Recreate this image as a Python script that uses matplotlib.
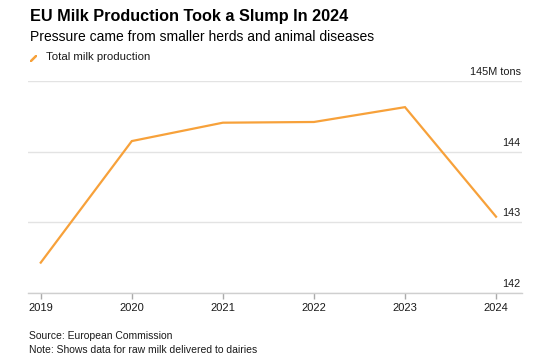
import matplotlib as mpl
mpl.use("Agg")
import matplotlib.pyplot as plt

years = [2019, 2020, 2021, 2022, 2023, 2024]
production = [142.43, 144.15, 144.41, 144.42, 144.63, 143.08]
y_ticks = [142, 143, 144, 145]
y_labels = ["142", "143", "144", "145M tons"]

LINE = "#f7a13a"
GRID = "#e3e3e3"
TEXT = "#1a1a1a"

plt.rcParams["font.family"] = ["Liberation Sans", "DejaVu Sans"]

fig = plt.figure(figsize=(5.53, 3.63), dpi=100)
ax = fig.add_axes([28 / 553, 1 - 293 / 363, 494 / 553, 212 / 363])

ax.plot(years, production, color=LINE, lw=1.6, solid_joinstyle="miter", zorder=3)

ax.set_xlim(2018.86, 2024.285)
ax.set_ylim(142, 145)

for spine in ["top", "right", "left"]:
    ax.spines[spine].set_visible(False)
ax.spines["bottom"].set_color("#cfcfcf")
ax.spines["bottom"].set_linewidth(1.0)

ax.set_yticks(y_ticks)
ax.yaxis.grid(True, color=GRID, lw=1.0)
ax.tick_params(axis="y", length=0, labelleft=False)
for val, lab in zip(y_ticks, y_labels):
    ax.annotate(lab, xy=(1, val), xycoords=("axes fraction", "data"),
                xytext=(-1, 3), textcoords="offset points",
                ha="right", va="bottom", fontsize=7.8, color=TEXT)

ax.set_xticks(years)
ax.set_xticklabels([str(y) for y in years])
ax.tick_params(axis="x", length=4, width=1, color="#aaaaaa", pad=3.5,
               labelsize=8, labelcolor=TEXT)

fig.text(30 / 553, 1 - 17 / 363, "EU Milk Production Took a Slump In 2024",
         fontsize=11.7, fontweight="bold", color="black", va="center")
fig.text(30 / 553, 1 - 37 / 363, "Pressure came from smaller herds and animal diseases",
         fontsize=10, color="black", va="center")

leg_ax = fig.add_axes([30 / 553, 1 - 62 / 363, 7 / 553, 7 / 363])
leg_ax.plot([0, 1], [0, 1], color=LINE, lw=1.8)
leg_ax.set_xlim(-0.1, 1.1)
leg_ax.set_ylim(-0.1, 1.1)
leg_ax.axis("off")
fig.text(46 / 553, 1 - 57 / 363, "Total milk production",
         fontsize=8.2, color=TEXT, va="center")

fig.text(29 / 553, 1 - 336 / 363, "Source: European Commission",
         fontsize=7.5, color=TEXT, va="center")
fig.text(29 / 553, 1 - 350 / 363, "Note: Shows data for raw milk delivered to dairies",
         fontsize=7.5, color=TEXT, va="center")

fig.savefig("out.png", dpi=100, facecolor="white")
